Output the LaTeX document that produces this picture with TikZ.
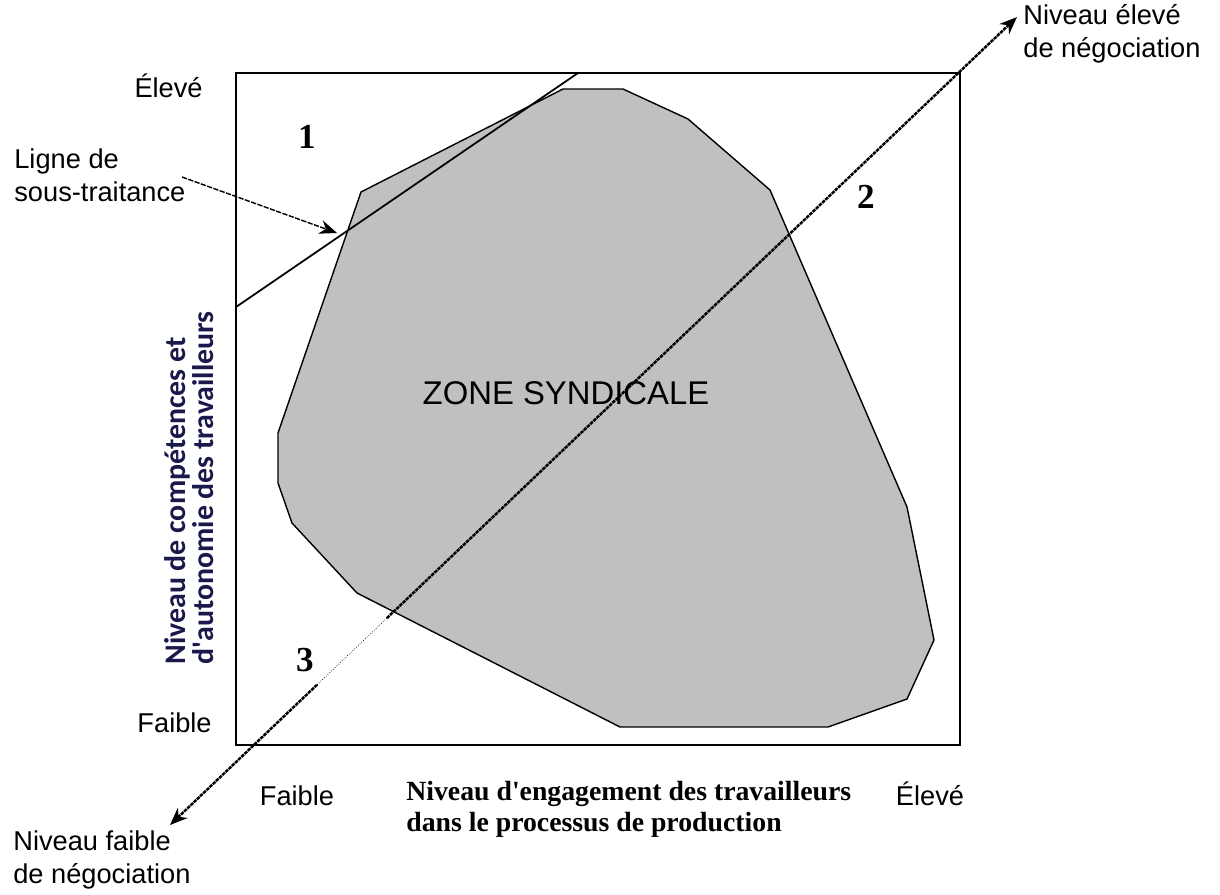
\documentclass[tikz,border=0pt]{standalone}
\usepackage{fontspec}
\setmainfont{Liberation Serif}
\setsansfont{Liberation Sans}
\newfontfamily\calibri{Carlito}
\usetikzlibrary{arrows.meta,calc}
\definecolor{zonegray}{RGB}{192,192,192}
\definecolor{axisblue}{RGB}{25,25,75}
\tikzset{
  lbl/.style={font=\sffamily\fontsize{15.5}{18.5}\selectfont, inner sep=0pt, align=left},
  num/.style={font=\rmfamily\bfseries\fontsize{20}{24}\selectfont, inner sep=0pt},
  negline/.style={line width=1.4pt, dash pattern=on 2pt off 0.5pt},
  negtip/.style={-{Stealth[length=10pt,width=8pt]}}
}
\begin{document}
\begin{tikzpicture}[x=0.02cm,y=-0.02cm]
\useasboundingbox (0,0) rectangle (1220,894);
% Zone syndicale
\draw[fill=zonegray, line width=0.8pt] (361,192) -- (563,89) -- (623,89) -- (688,119) -- (770,190) -- (907,507) -- (934,640) -- (907,699) -- (828,727) -- (620,727) -- (357,593) -- (292,523) -- (278,483) -- (278,433) -- cycle;
\node[font=\sffamily\fontsize{18.7}{22}\selectfont, inner sep=0pt] (zone) at (566,393) {ZONE SYNDICALE};
% Cadre
\draw[line width=0.9pt] (236,73) rectangle (960,745);
% Ligne de sous-traitance
\coordinate (st lo) at (236,307);
\coordinate (st hi) at (578,73);
\draw[line width=1pt] (st lo) -- (st hi);
\node[lbl, anchor=base west] (ligne) at (14,201) {Ligne de\\sous-traitance};
\coordinate (ligne tail) at (182,177);
\coordinate (ligne head) at (337,233);
\draw[line width=0.8pt, dash pattern=on 3pt off 0.8pt, negtip] (ligne tail) -- (ligne head);
% Niveaux de negociation
\coordinate (neg hi) at (1017,17);
\coordinate (neg lo) at (170,825);
\draw[negline, negtip] ($(neg lo)!0.256!(neg hi)$) -- (neg hi);
\draw[negline, negtip] ($(neg lo)!0.1736!(neg hi)$) -- (neg lo);
\draw[densely dotted, thin] ($(neg lo)!0.1736!(neg hi)$) -- ($(neg lo)!0.256!(neg hi)$);
\node[lbl, anchor=base west] (neg hi lbl) at (1023,57) {Niveau élevé\\de négociation};
\node[lbl, anchor=base west] (neg lo lbl) at (13,883) {Niveau faible\\de négociation};
% Zones numerotees
\node[num] (un) at (307,137) {1};
\node[num] (deux) at (866,197) {2};
\node[num] (trois) at (305,660) {3};
% Axes
\node[lbl, anchor=base east] (y high) at (203,97) {Élevé};
\node[lbl, anchor=base east] (y low) at (212,732) {Faible};
\node[lbl, anchor=base] (x low) at (297,805) {Faible};
\node[lbl, anchor=base] (x high) at (930,805) {Élevé};
\node[rotate=90, anchor=north west, align=left, inner sep=0pt, text=axisblue, font=\calibri\bfseries\fontsize{17}{16}\selectfont] (y title) at (164,665) {Niveau de compétences et\\d\textquotesingle autonomie des travailleurs};
\node[anchor=base west, align=left, inner sep=0pt, font=\rmfamily\bfseries\fontsize{15.8}{17.5}\selectfont] (x title) at (406,831) {Niveau d\textquotesingle engagement des travailleurs\\dans le processus de production};
\end{tikzpicture}
\end{document}
